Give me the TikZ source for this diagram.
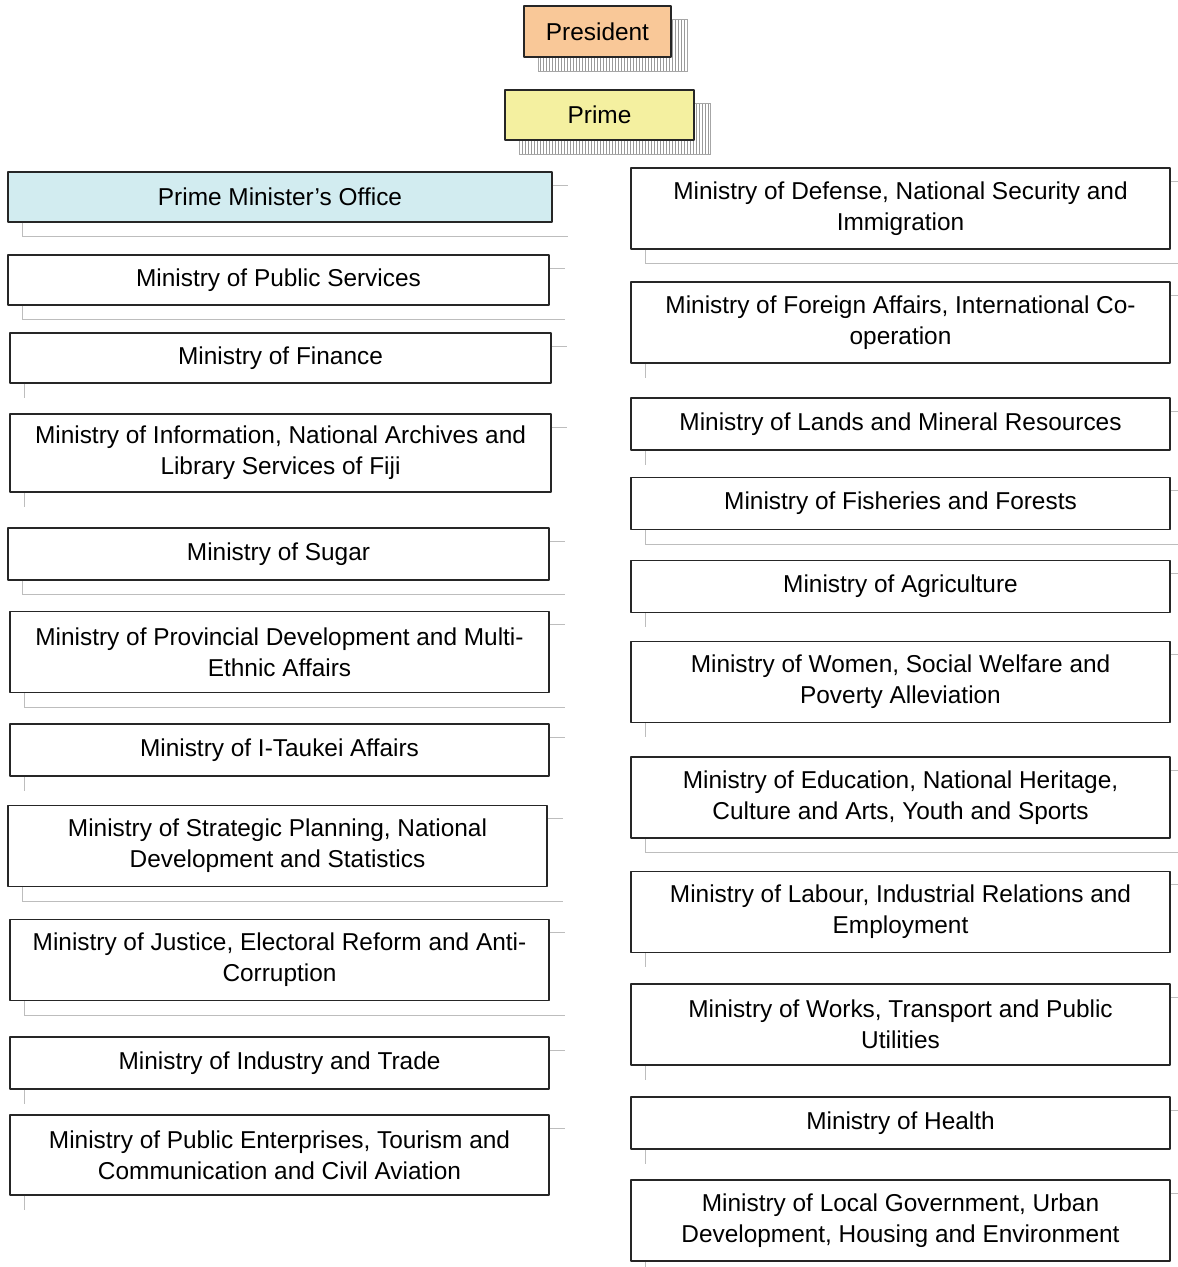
\documentclass[tikz,border=0pt]{standalone}
\usepackage{fontspec}
\setmainfont{Liberation Sans}
\usetikzlibrary{patterns.meta,backgrounds}
\definecolor{presfill}{HTML}{F9C898}
\definecolor{primefill}{HTML}{F4F0A0}
\definecolor{pmofill}{HTML}{D2ECF0}
\definecolor{shadowgray}{HTML}{BDBDBD}
\begin{document}
\begin{tikzpicture}[line join=bevel,
  font=\fontsize{12.2bp}{15.5bp}\selectfont,
  box/.style={draw=black!85,line width=0.9bp,fill=white,align=center,inner sep=0pt,minimum width=269.5bp,minimum height=26bp},
  tall/.style={minimum height=40.5bp},
  shadowline/.style={draw=shadowgray,line width=0.5bp},
  tickshadow/.style={append after command={
    ([yshift=-7bp]\tikzlastnode.north east) edge[shadowline] ([xshift=7.5bp,yshift=-7bp]\tikzlastnode.north east)
    ([xshift=7.5bp]\tikzlastnode.south west) edge[shadowline] ([xshift=7.5bp,yshift=-7bp]\tikzlastnode.south west)}},
  lineshadow/.style={tickshadow,append after command={
    ([xshift=7.5bp,yshift=-7bp]\tikzlastnode.south west) edge[shadowline] ([xshift=7.5bp,yshift=-7bp]\tikzlastnode.south east)}},
  hatch/.style={draw=gray!70,line width=0.4bp,pattern={Lines[angle=90,distance=1.5bp,line width=0.35bp]},pattern color=gray!80},
]
\useasboundingbox (0bp,0bp) rectangle (589bp,633.5bp);
%%
\node (president) at (298.75bp,617.75bp) [box,fill=presfill,minimum width=73.5bp,minimum height=25.5bp] {President};
\node (prime) at (299.75bp,576bp) [box,fill=primefill,minimum width=94.5bp,minimum height=25bp] {Prime};
\begin{scope}[on background layer]
  \draw [hatch] ([shift={(7.5bp,-7bp)}]president.south west) rectangle ([shift={(7.5bp,-7bp)}]president.north east);
  \draw [hatch] ([shift={(7.5bp,-7bp)}]prime.south west) rectangle ([shift={(7.5bp,-7bp)}]prime.north east);
\end{scope}
%
\node (pm_office) at (140bp,535bp) [box,fill=pmofill,minimum width=272bp,minimum height=25bp,lineshadow] {Prime Minister’s Office};
  \node (public_services) at (139.25bp,493.5bp) [box,minimum width=270.5bp,minimum height=25bp,lineshadow] {Ministry of Public Services};
  \node (finance) at (140.25bp,454.5bp) [box,minimum width=270.5bp,minimum height=25bp,tickshadow] {Ministry of Finance};
  \node (information) at (140.25bp,407bp) [box,minimum width=270.5bp,minimum height=39bp,tickshadow] {Ministry of Information, National Archives and\\Library Services of Fiji};
  \node (sugar) at (139.25bp,356.5bp) [box,minimum width=270.5bp,lineshadow] {Ministry of Sugar};
  \node (provincial) at (139.75bp,307.5bp) [box,tall,lineshadow] {Ministry of Provincial Development and Multi-\\Ethnic Affairs};
  \node (itaukei) at (139.75bp,258.5bp) [box,tickshadow] {Ministry of I-Taukei Affairs};
  \node (planning) at (138.75bp,210.5bp) [box,tall,lineshadow] {Ministry of Strategic Planning, National\\Development and Statistics};
  \node (justice) at (139.75bp,153.5bp) [box,tall,lineshadow] {Ministry of Justice, Electoral Reform and Anti-\\Corruption};
  \node (industry) at (139.75bp,102bp) [box,tickshadow] {Ministry of Industry and Trade};
  \node (enterprises) at (139.75bp,56bp) [box,minimum height=40bp,tickshadow] {Ministry of Public Enterprises, Tourism and\\Communication and Civil Aviation};
%
\node (defense) at (450.25bp,529.25bp) [box,tall,lineshadow] {Ministry of Defense, National Security and\\Immigration};
  \node (foreign) at (450.25bp,472.25bp) [box,tall,tickshadow] {Ministry of Foreign Affairs, International Co-\\operation};
  \node (lands) at (450.25bp,421.5bp) [box,tickshadow] {Ministry of Lands and Mineral Resources};
  \node (fisheries) at (450.25bp,381.75bp) [box,lineshadow] {Ministry of Fisheries and Forests};
  \node (agriculture) at (450.25bp,340.25bp) [box,tickshadow] {Ministry of Agriculture};
  \node (women) at (450.25bp,292.5bp) [box,tall,tickshadow] {Ministry of Women, Social Welfare and\\Poverty Alleviation};
  \node (education) at (450.25bp,234.75bp) [box,tall,lineshadow] {Ministry of Education, National Heritage,\\Culture and Arts, Youth and Sports};
  \node (labour) at (450.25bp,177.5bp) [box,tall,tickshadow] {Ministry of Labour, Industrial Relations and\\Employment};
  \node (works) at (450.25bp,121.25bp) [box,tall,tickshadow] {Ministry of Works, Transport and Public\\Utilities};
  \node (health) at (450.25bp,72bp) [box,tickshadow] {Ministry of Health};
  \node (local_government) at (450.25bp,23.25bp) [box,tall,tickshadow] {Ministry of Local Government, Urban\\Development, Housing and Environment};
%
\end{tikzpicture}
\end{document}
